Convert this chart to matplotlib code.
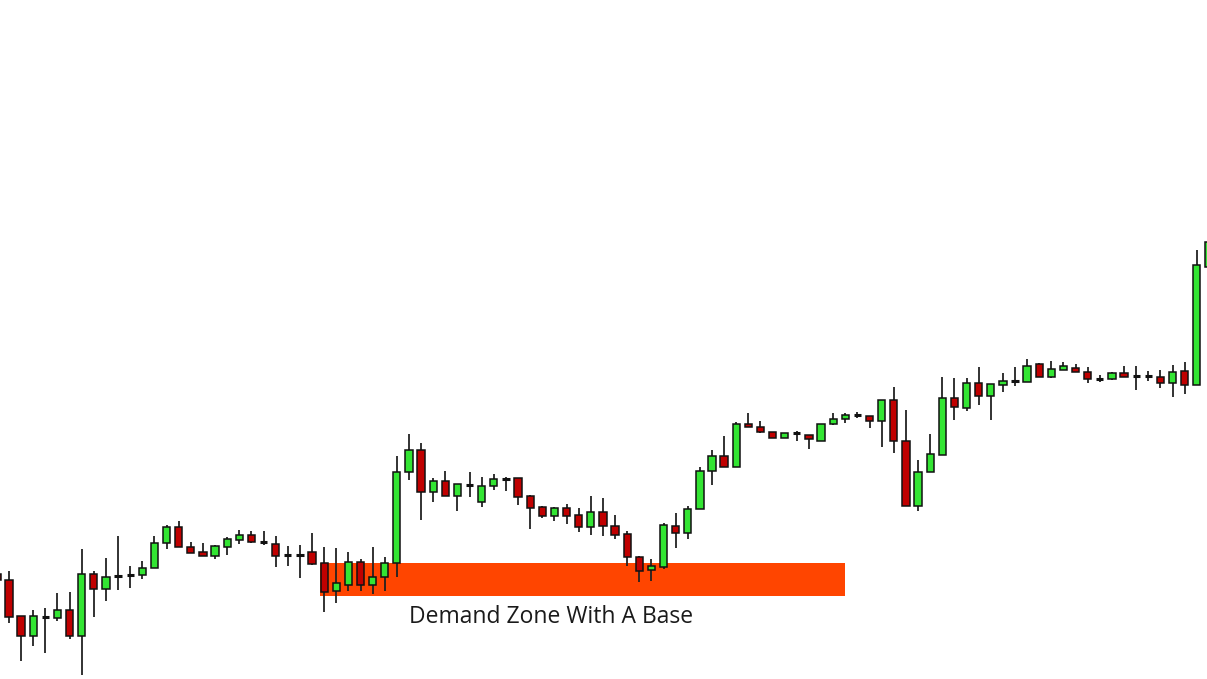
import matplotlib
matplotlib.use("Agg")
import matplotlib.pyplot as plt
from matplotlib.patches import Rectangle

# candle prices (arbitrary units)
opens = [105, 99, 63, 43, 62, 61, 69, 43, 105, 90, 103, 104, 104, 111, 136, 152, 132, 127, 123, 132,
         139, 144, 137, 135, 124, 124, 127, 116, 88, 94, 117, 94, 102, 116, 207, 229, 187, 198, 183, 194,
         177, 193, 201, 201, 183, 172, 163, 171, 164, 152, 167, 153, 145, 122, 109, 112, 153, 146, 170, 208,
         223, 212, 255, 252, 247, 241, 246, 244, 238, 255, 260, 264, 263, 258, 279, 238, 173, 207, 224, 281,
         271, 296, 283, 294, 298, 297, 315, 302, 309, 311, 307, 300, 300, 306, 303, 303, 302, 296, 308, 294,
         412]
highs = [110, 108, 63, 69, 71, 86, 87, 130, 108, 121, 143, 113, 118, 143, 154, 158, 137, 136, 134, 142,
         149, 148, 148, 143, 133, 134, 146, 132, 131, 127, 120, 132, 122, 223, 245, 236, 201, 208, 195, 207,
         202, 205, 202, 201, 184, 173, 172, 175, 171, 183, 181, 164, 148, 123, 120, 156, 166, 173, 212, 229,
         243, 257, 266, 258, 247, 246, 248, 244, 255, 266, 266, 267, 263, 279, 292, 269, 219, 245, 302, 301,
         301, 312, 295, 306, 312, 320, 316, 318, 317, 315, 312, 304, 307, 313, 313, 308, 309, 314, 317, 429,
         440]
lows = [96, 56, 18, 33, 26, 58, 40, 4, 62, 78, 89, 91, 100, 111, 130, 132, 126, 123, 120, 124,
        135, 136, 134, 112, 113, 101, 114, 67, 76, 88, 88, 85, 88, 102, 199, 159, 177, 183, 168, 182,
        172, 189, 188, 174, 150, 161, 158, 155, 147, 144, 143, 140, 113, 97, 98, 110, 131, 140, 170, 194,
        212, 212, 252, 246, 241, 241, 238, 230, 238, 254, 256, 261, 251, 232, 226, 173, 168, 207, 224, 259,
        268, 274, 259, 287, 293, 297, 302, 301, 309, 307, 296, 297, 299, 302, 289, 298, 291, 282, 285, 294,
        405]
closes = [99, 62, 43, 63, 62, 69, 43, 105, 90, 102, 103, 104, 111, 136, 152, 132, 126, 123, 133, 140,
          144, 137, 137, 123, 124, 124, 115, 87, 96, 117, 94, 102, 116, 207, 229, 187, 198, 183, 195, 194,
          193, 200, 200, 182, 171, 163, 171, 163, 152, 167, 153, 144, 122, 108, 113, 154, 146, 170, 208, 223,
          212, 255, 252, 247, 241, 246, 246, 240, 255, 260, 264, 264, 258, 279, 238, 173, 207, 225, 281, 272,
          296, 283, 295, 298, 298, 313, 302, 310, 313, 307, 300, 300, 306, 302, 303, 303, 296, 307, 294, 414,
          437]

zone_start, zone_end = 26.66, 69.98
zone_low, zone_high = 83, 116
zone_label = "Demand Zone With A Base"
label_x, label_y = 45.7, 62

green = "#33E533"
red = "#C00000"

fig = plt.figure(figsize=(12.07, 6.79), dpi=100)
ax = fig.add_axes([0, 0, 1, 1])
ax.set_xlim(0.257, 99.84)
ax.set_ylim(0, 679)
ax.axis("off")

ax.add_patch(Rectangle((zone_start, zone_low), zone_end - zone_start, zone_high - zone_low,
                       facecolor="#FF4500", edgecolor="none", zorder=1))
ax.text(label_x, label_y, zone_label, ha="center", va="center",
        fontsize=16.5, family="Open Sans", color="#1a1a1a")

w = 0.6
for i in range(len(opens)):
    o, h, l, c = opens[i], highs[i], lows[i], closes[i]
    ax.vlines(i, l, h, color="#222222", lw=1.3, zorder=2)
    if abs(c - o) < 1.5:
        ax.hlines((o + c) / 2, i - w / 2, i + w / 2, color="#111111", lw=2.2, zorder=3)
    else:
        col = green if c > o else red
        ax.bar(i, abs(c - o), bottom=min(o, c), width=w, color=col,
               edgecolor="#111111", linewidth=1.1, zorder=3)

fig.savefig("out.png", dpi=100, facecolor="white")
